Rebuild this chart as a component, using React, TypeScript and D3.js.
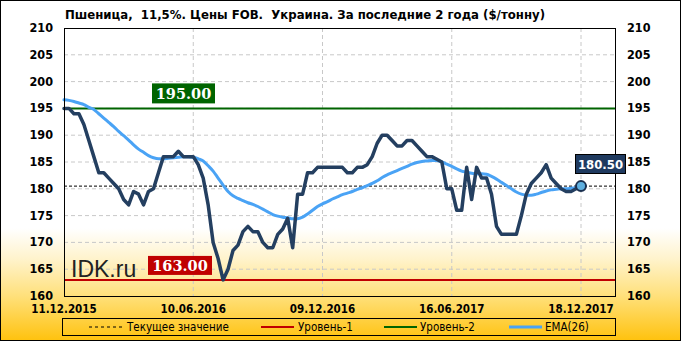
import React from "react";
import * as d3 from "d3";

const title = "Пшеница,  11,5%. Цены FOB.  Украина. За последние 2 года ($/тонну)";
const xTickLabels = ["11.12.2015", "10.06.2016", "09.12.2016", "16.06.2017", "18.12.2017"];
const xTickIndex = [0, 26, 52, 78, 104];
const yTicks = [160, 165, 170, 175, 180, 185, 190, 195, 200, 205, 210];

const price = [
  195, 195, 194, 194, 192, 189, 186, 183, 183, 182,
  181, 180, 178, 177, 179.5, 179, 177, 179.5, 180, 183,
  186, 186, 186, 187, 186, 186, 186, 184.5, 182, 177,
  170, 167, 163, 165, 168.5, 169.5, 172, 173, 172, 172,
  170, 169, 169, 171.5, 172.5, 174.5, 169, 179, 179, 183,
  183, 184, 184, 184, 184, 184, 184, 183, 183, 184,
  184, 184.5, 186, 188.5, 190, 190, 189, 188, 188, 189,
  189, 188, 187, 186, 186, 185.5, 185, 180, 180, 176,
  176, 184, 178, 184, 182, 182, 179, 173, 171.5, 171.5,
  171.5, 171.5, 175, 179, 181, 182, 183, 184.5, 182, 181,
  180, 179.5, 179.5, 180, 180.5,
];

const ema = [
  196.6, 196.5, 196.3, 196.0, 195.7, 195.2, 194.8, 194.0, 193.2, 192.4,
  191.6, 190.7, 189.9, 189.1, 188.2, 187.4, 186.8, 186.2, 185.8, 185.6,
  185.6, 185.7, 185.8, 185.9, 186.0, 186.0, 185.9, 185.6, 185.2, 184.3,
  183.3, 182.0, 180.7, 179.5, 178.7, 178.2, 177.8, 177.4, 177.1, 176.7,
  176.2, 175.7, 175.2, 174.9, 174.7, 174.6, 174.4, 174.4, 174.7, 175.3,
  176.0, 176.7, 177.2, 177.6, 178.1, 178.5, 178.9, 179.2, 179.5, 179.9,
  180.2, 180.6, 181.0, 181.5, 182.1, 182.6, 183.0, 183.4, 183.8, 184.2,
  184.6, 184.9, 185.1, 185.2, 185.3, 185.3, 185.0, 184.6, 184.2, 183.7,
  183.3, 183.1, 182.9, 182.8, 182.8, 182.7, 182.3, 181.8, 181.2, 180.6,
  180.0, 179.4, 179.0, 178.8, 178.8, 179.0, 179.3, 179.6, 179.8, 179.9,
  180.0, 180.0, 180.1, 180.2, 180.4,
];

const currentValue = 180.5;
const level1 = 163;
const level2 = 195;

const legendItems = ["Текущее значение", "Уровень-1", "Уровень-2", "EMA(26)"];

const W = 681;
const H = 341;
const plot = { left: 64, right: 615, top: 28, bottom: 296 };

export default function App() {
  const x = d3.scaleLinear().domain([0, 104]).range([plot.left, 581]);
  const y = d3.scaleLinear().domain([160, 210]).range([plot.bottom, plot.top]);

  const priceLine = d3
    .line<number>()
    .x((_, i) => x(i))
    .y((d) => y(d));
  const emaLine = d3
    .line<number>()
    .x((_, i) => x(i))
    .y((d) => y(d))
    .curve(d3.curveMonotoneX);

  const sans = "'DejaVu Sans Condensed', 'DejaVu Sans', sans-serif";
  const last = price.length - 1;

  const legendY = 327;
  const legendPos = [
    { lx: 89, tx: 127 },
    { lx: 261, tx: 298 },
    { lx: 384, tx: 420 },
    { lx: 509, tx: 545 },
  ];
  const legendColors = ["#000", "#c00000", "#006400", "#4aa3f5"];

  return (
    <div style={{ position: "absolute", left: 0, top: 0 }}>
      <svg width={W} height={H} style={{ display: "block" }}>
        <defs>
          <linearGradient id="bg" x1="0" y1="0" x2="0" y2="1">
            <stop offset="0" stopColor="#ffffff" />
            <stop offset="0.67" stopColor="#ffffff" />
            <stop offset="0.76" stopColor="#fff3cc" />
            <stop offset="0.87" stopColor="#ffe07a" />
            <stop offset="1" stopColor="#ffc20e" />
          </linearGradient>
        </defs>
        <rect x={0.5} y={0.5} width={W - 1} height={H - 1} fill="url(#bg)" stroke="#000" />

        <text
          x={65}
          y={19}
          fontFamily={sans}
          fontWeight="bold"
          fontSize={13}
          fill="#000"
          textLength={480}
          lengthAdjust="spacingAndGlyphs"
        >
          {title.replace(/ /g, "\u00A0")}
        </text>

        {/* grid */}
        {yTicks.slice(1, -1).map((t) => (
          <line key={"gy" + t} x1={plot.left} x2={plot.right} y1={y(t)} y2={y(t)} stroke="#c8c8c8" strokeDasharray="4,3" />
        ))}
        {xTickIndex.slice(1).map((i) => (
          <line key={"gx" + i} x1={x(i)} x2={x(i)} y1={plot.top} y2={plot.bottom} stroke="#c8c8c8" strokeDasharray="4,3" />
        ))}

        {/* y labels */}
        {yTicks.map((t) => (
          <g key={"yl" + t}>
            <text x={53} y={y(t) + 4} textAnchor="end" fontFamily={sans} fontWeight="bold" fontSize={12.5} fill="#000">
              {t}
            </text>
            <text x={627} y={y(t) + 4} textAnchor="start" fontFamily={sans} fontWeight="bold" fontSize={12.5} fill="#000">
              {t}
            </text>
          </g>
        ))}

        {/* x labels */}
        {xTickIndex.map((i, k) => (
          <text key={"xl" + i} x={x(i)} y={312.5} textAnchor="middle" fontFamily={sans} fontWeight="bold" fontSize={11.5} fill="#000">
            {xTickLabels[k]}
          </text>
        ))}

        {/* IDK.ru */}
        <text x={71} y={277} fontFamily="'Liberation Sans', Arial, sans-serif" fontSize={23} fill="#222">
          IDK.ru
        </text>

        {/* levels */}
        <line x1={plot.left} x2={plot.right} y1={y(level2)} y2={y(level2)} stroke="#006400" strokeWidth={2} />
        <line x1={plot.left} x2={plot.right} y1={y(level1)} y2={y(level1)} stroke="#c00000" strokeWidth={2} />
        <line x1={plot.left} x2={plot.right} y1={y(currentValue)} y2={y(currentValue)} stroke="#000" strokeWidth={1} strokeDasharray="3,2" />

        {/* EMA */}
        <path d={emaLine(ema) || ""} fill="none" stroke="#4aa3f5" strokeWidth={3} strokeLinejoin="round" strokeLinecap="round" />
        {/* price */}
        <path d={priceLine(price) || ""} fill="none" stroke="#243f60" strokeWidth={3.5} strokeLinejoin="round" strokeLinecap="round" />
        <circle cx={x(last)} cy={y(price[last])} r={5} fill="#5fb0e0" stroke="#1a2f4f" strokeWidth={2} />

        {/* plot border */}
        <rect x={plot.left + 0.5} y={plot.top + 0.5} width={plot.right - plot.left} height={plot.bottom - plot.top} fill="none" stroke="#000" />

        {/* level labels */}
        <rect x={152} y={y(level2) - 25} width={63} height={20} fill="#006400" />
        <text x={183.5} y={y(level2) - 9.5} textAnchor="middle" fontFamily="'DejaVu Serif', serif" fontWeight="bold" fontSize={14.5} fill="#fff">
          {level2.toFixed(2)}
        </text>
        <rect x={148} y={y(level1) - 24} width={64} height={19} fill="#c00000" />
        <text x={180} y={y(level1) - 9} textAnchor="middle" fontFamily="'DejaVu Serif', serif" fontWeight="bold" fontSize={14.5} fill="#fff">
          {level1.toFixed(2)}
        </text>
        <rect x={575.5} y={154.5} width={50} height={19} fill="#1f3a5f" stroke="#000" />
        <text x={600.5} y={169} textAnchor="middle" fontFamily={sans} fontWeight="bold" fontSize={13} fill="#fff">
          {currentValue.toFixed(2)}
        </text>

        {/* legend */}
        <rect x={62.5} y={318.5} width={553} height={17} fill="none" stroke="#000" />
        {legendItems.map((name, k) => (
          <g key={name}>
            <line
              x1={legendPos[k].lx}
              x2={legendPos[k].lx + 33}
              y1={legendY}
              y2={legendY}
              stroke={legendColors[k]}
              strokeWidth={k === 0 ? 1 : k === 3 ? 3 : 2}
              strokeDasharray={k === 0 ? "3,3" : undefined}
            />
            <text x={legendPos[k].tx} y={legendY + 4} fontFamily={sans} fontSize={11.5} fill="#000">
              {name}
            </text>
          </g>
        ))}
      </svg>
    </div>
  );
}
